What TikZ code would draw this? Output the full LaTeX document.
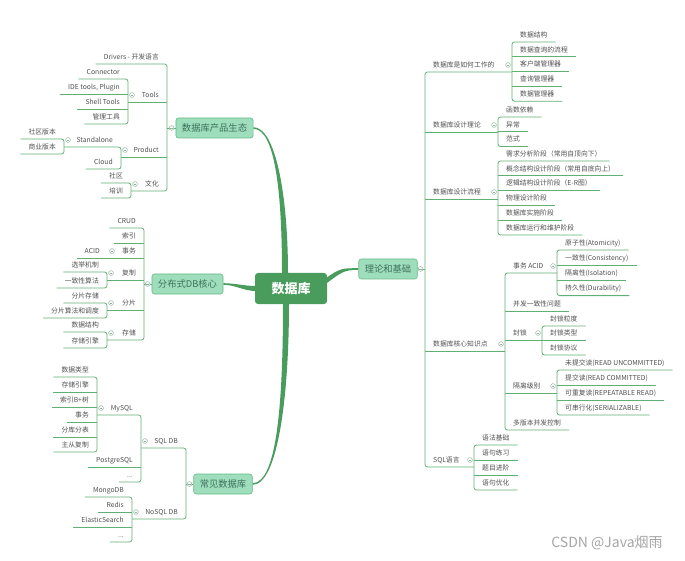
\documentclass[tikz,border=0pt]{standalone}
\usepackage{fontspec}
\setmainfont{Noto Sans CJK SC}
\usetikzlibrary{calc,backgrounds}
\definecolor{rootgreen}{RGB}{74,156,92}
\definecolor{topicfill}{RGB}{158,222,188}
\definecolor{topicline}{RGB}{104,186,136}
\definecolor{topictext}{RGB}{62,112,92}
\definecolor{linegreen}{RGB}{96,176,116}
\definecolor{leaftext}{RGB}{80,80,80}
\definecolor{markgray}{RGB}{146,176,158}
\definecolor{wmgray}{RGB}{165,165,165}

\tikzset{
  leafbase/.style={font=\fontsize{6.8}{8}\selectfont, text=leaftext, inner xsep=8pt, inner ysep=3.5pt, text height=5.8pt, text depth=1pt},
  rleaf/.style={leafbase, anchor=south west},
  lleaf/.style={leafbase, anchor=south east},
  conn/.style={draw=linegreen, line width=0.8pt, rounded corners=2.5pt},
  fold/.style={circle, draw=markgray, fill=white, line width=0.5pt, inner sep=0pt, minimum size=4.8pt,
    path picture={\draw[markgray, line width=0.4pt] ([xshift=1pt]path picture bounding box.west) -- ([xshift=-1pt]path picture bounding box.east);}},
  topicbox/.style={rounded corners=2.5pt, fill=topicfill, draw=topicline, line width=0.6pt, text=topictext, font=\fontsize{9.3}{11}\selectfont, minimum height=20pt, inner xsep=6pt},
  rootbox/.style={rounded corners=3pt, fill=rootgreen, text=white, font=\fontsize{13}{15}\selectfont\bfseries, minimum width=72pt, minimum height=31pt},
  limb/.style={fill=rootgreen},
}

\begin{document}
\begin{tikzpicture}[x=1pt, y=-1pt]
\useasboundingbox (0,0) rectangle (685,561);

% centre and main topics
\node[rootbox] (db) at (291,288.5) {数据库};
\node[topicbox] (theory) at (388,269) {理论和基础};
\node[topicbox] (eco) at (214.5,128) {数据库产品生态};
\node[topicbox] (dist) at (187.5,284) {分布式DB核心};
\node[topicbox] (common) at (223,484) {常见数据库};
\begin{scope}[on background layer]
\fill[limb] ($(db.east)+(-1,-10.5)$) .. controls +(14,-10) and +(-16,0) .. ($(theory.west)+(0,-0.8)$)
  -- ($(theory.west)+(0,0.8)$) .. controls +(-16,0) and +(14,-10) .. ($(db.east)+(-1,-5)$) -- cycle;
\fill[limb] ($(db.north)+(-9,1)$) .. controls +(0,-80) and +(22,0) .. ($(eco.east)+(0,0.8)$)
  -- ($(eco.east)+(0,-0.8)$) .. controls +(22,0) and +(0,-80) .. ($(db.north)+(-3,1)$) -- cycle;
\fill[limb] ($(db.west)+(1,-2.5)$) .. controls +(-12,0) and +(12,0) .. ($(dist.east)+(0,-0.8)$)
  -- ($(dist.east)+(0,0.8)$) .. controls +(12,0) and +(-12,0) .. ($(db.west)+(1,2.5)$) -- cycle;
\fill[limb] ($(db.south)+(-8,-1)$) .. controls +(0,95) and +(25,0) .. ($(common.east)+(0,-0.8)$)
  -- ($(common.east)+(0,0.8)$) .. controls +(25,0) and +(0,95) .. ($(db.south)+(-2,-1)$) -- cycle;
\end{scope}

% theory branch
\node[rleaf] (how) at (425,72) {数据库是如何工作的};
\node[rleaf] (design) at (425,132) {数据库设计理论};
\node[rleaf] (flow) at (425,199) {数据库设计流程};
\node[rleaf] (core) at (425,351) {数据库核心知识点};
\node[rleaf] (sql) at (425,467) {SQL语言};
\foreach \t [count=\i] in {数据结构,数据查询的流程,客户端管理器,查询管理器,数据管理器}
  \node[rleaf] (how\i) at (512,{42+14.8*(\i-1)}) {\t};
\foreach \t [count=\i] in {函数依赖,异常,范式}
  \node[rleaf] (des\i) at (498,{117+14.8*(\i-1)}) {\t};
\foreach \t [count=\i] in {需求分析阶段（常用自顶向下）,概念结构设计阶段（常用自底向上）,逻辑结构设计阶段（E-R图）,物理设计阶段,数据库实施阶段,数据库运行和维护阶段}
  \node[rleaf] (flow\i) at (498,{161+14.8*(\i-1)}) {\t};
\node[rleaf] (acid) at (505,273) {事务 ACID};
\node[rleaf] (conc) at (505,311) {并发一致性问题};
\node[rleaf] (lock) at (505,340) {封锁};
\node[rleaf] (iso) at (505,393) {隔离级别};
\node[rleaf] (mvcc) at (505,430) {多版本并发控制};
\foreach \t [count=\i] in {{原子性(Atomicity)},{一致性(Consistency)},{隔离性(Isolation)},{持久性(Durability)}}
  \node[rleaf] (acid\i) at (557,{250+15.2*(\i-1)}) {\t};
\foreach \t [count=\i] in {封锁粒度,封锁类型,封锁协议}
  \node[rleaf] (lock\i) at (542,{326+14.5*(\i-1)}) {\t};
\foreach \t [count=\i] in {{未提交读(READ UNCOMMITTED)},{提交读(READ COMMITTED)},{可重复读(REPEATABLE READ)},{可串行化(SERIALIZABLE)}}
  \node[rleaf] (iso\i) at (557,{370+15*(\i-1)}) {\t};
\foreach \t [count=\i] in {语法基础,语句练习,题目进阶,语句优化}
  \node[rleaf] (sql\i) at (474,{445+15*(\i-1)}) {\t};

\draw[conn] (theory.east) -- (theory.east -| how.south west);
\draw[conn] (how.south west -| how1.south west) -- (how.south west) -- (sql.south west) -- (sql.south west -| sql1.south west);
\draw[conn] (design.south west) -- (design.south west -| des1.south west);
\draw[conn] (flow.south west) -- (flow.south west -| flow1.south west);
\draw[conn] (core.south west) -- (core.south west -| acid.south west);
\draw[conn] (how1.south east) -- (how1.south west) -- (how5.south west) -- (how5.south east);
\foreach \i in {2,3,4} \draw[conn] (how\i.south west) -- (how\i.south east);
\draw[conn] (des1.south east) -- (des1.south west) -- (des3.south west) -- (des3.south east);
\draw[conn] (des2.south west) -- (des2.south east);
\draw[conn] (flow1.south east) -- (flow1.south west) -- (flow6.south west) -- (flow6.south east);
\foreach \i in {2,...,5} \draw[conn] (flow\i.south west) -- (flow\i.south east);
\draw[conn] (acid.south west -| acid1.south west) -- (acid.south west) -- (mvcc.south west) -- (mvcc.south east);
\draw[conn] (conc.south west) -- (conc.south east);
\draw[conn] (lock.south west) -- (lock.south west -| lock1.south west);
\draw[conn] (iso.south west) -- (iso.south west -| iso1.south west);
\draw[conn] (acid1.south east) -- (acid1.south west) -- (acid4.south west) -- (acid4.south east);
\foreach \i in {2,3} \draw[conn] (acid\i.south west) -- (acid\i.south east);
\draw[conn] (lock1.south east) -- (lock1.south west) -- (lock3.south west) -- (lock3.south east);
\draw[conn] (lock2.south west) -- (lock2.south east);
\draw[conn] (iso1.south east) -- (iso1.south west) -- (iso4.south west) -- (iso4.south east);
\foreach \i in {2,3} \draw[conn] (iso\i.south west) -- (iso\i.south east);
\draw[conn] (sql1.south east) -- (sql1.south west) -- (sql4.south west) -- (sql4.south east);
\foreach \i in {2,3} \draw[conn] (sql\i.south west) -- (sql\i.south east);
\node[fold] at ($(theory.east)+(3,0)$) {};
\foreach \p/\c in {how/how1, design/des1, flow/flow1, core/acid, sql/sql1, acid/acid1, lock/lock1, iso/iso1}
  \node[fold] at ($(\p.south west -| \c.south west)+(-4,-7)$) {};

% product ecosystem branch
\node[lleaf] (drv) at (167,64) {Drivers - 开发语言};
\node[lleaf] (tools) at (167,102) {Tools};
\node[lleaf] (prod) at (167,157) {Product};
\node[lleaf] (cult) at (167,191) {文化};
\foreach \t [count=\i] in {Connector,{IDE tools, Plugin},Shell Tools,管理工具}
  \node[lleaf] (tool\i) at (128,{79+15*(\i-1)}) {\t};
\node[lleaf] (stand) at (121,147) {Standalone};
\node[lleaf] (cloud) at (121,169) {Cloud};
\node[lleaf] (ed1) at (64,139) {社区版本};
\node[lleaf] (ed2) at (64,154) {商业版本};
\node[lleaf] (cult1) at (131,183) {社区};
\node[lleaf] (cult2) at (131,198) {培训};

\draw[conn] (eco.west) -- (eco.west -| drv.south east);
\draw[conn] (drv.south west) -- (drv.south east) -- (cult.south east) -- (cult.south east -| cult1.south east);
\draw[conn] (tools.south east) -- (tools.south east -| tool1.south east);
\draw[conn] (prod.south east) -- (prod.south east -| stand.south east);
\draw[conn] (tool1.south west) -- (tool1.south east) -- (tool4.south east) -- (tool4.south west);
\foreach \i in {2,3} \draw[conn] (tool\i.south west) -- (tool\i.south east);
\draw[conn] (stand.south east -| ed1.south east) -- (stand.south east) -- (cloud.south east) -- (cloud.south west);
\draw[conn] (ed1.south west) -- (ed1.south east) -- (ed2.south east) -- (ed2.south west);
\draw[conn] (cult1.south west) -- (cult1.south east) -- (cult2.south east) -- (cult2.south west);
\node[fold] at ($(eco.west)+(-4,0)$) {};
\foreach \p/\c in {tools/tool1, prod/stand, stand/ed1, cult/cult1}
  \node[fold] at ($(\p.south east -| \c.south east)+(4,-7)$) {};

% distributed core branch
\node[lleaf] (crud) at (144,228) {CRUD};
\node[lleaf] (idx) at (144,243) {索引};
\node[lleaf] (trx) at (144,258) {事务};
\node[lleaf] (repl) at (144,280) {复制};
\node[lleaf] (shard) at (144,310) {分片};
\node[lleaf] (store) at (144,340) {存储};
\node[lleaf] (acidl) at (108,258) {ACID};
\node[lleaf] (repl1) at (107,272) {选举机制};
\node[lleaf] (repl2) at (107,288) {一致性算法};
\node[lleaf] (shard1) at (107,303) {分片存储};
\node[lleaf] (shard2) at (107,318) {分片算法和调度};
\node[lleaf] (store1) at (107,332) {数据结构};
\node[lleaf] (store2) at (107,348) {存储引擎};

\draw[conn] (dist.west) -- (dist.west -| crud.south east);
\draw[conn] (crud.south west) -- (crud.south east) -- (store.south east) -- (store.south east -| store1.south east);
\draw[conn] (idx.south west) -- (idx.south east);
\draw[conn] (trx.south east) -- (acidl.south west);
\draw[conn] (repl.south east) -- (repl.south east -| repl1.south east);
\draw[conn] (shard.south east) -- (shard.south east -| shard1.south east);
\foreach \n in {repl,shard,store}
  \draw[conn] (\n1.south west) -- (\n1.south east) -- (\n2.south east) -- (\n2.south west);
\node[fold] at ($(dist.west)+(-4,0)$) {};
\foreach \p/\c in {trx/acidl, repl/repl1, shard/shard1, store/store1}
  \node[fold] at ($(\p.south east -| \c.south east)+(4,-7)$) {};

% common databases branch
\node[lleaf] (sqldb) at (186,448) {SQL DB};
\node[lleaf] (nosql) at (186,519) {NoSQL DB};
\node[lleaf] (mysql) at (141,415) {MySQL};
\node[lleaf] (pg) at (141,467) {PostgreSQL};
\node[lleaf] (sqlmore) at (141,482) {...};
\foreach \t [count=\i] in {数据类型,存储引擎,索引B+树,事务,分库分表,主从复制}
  \node[lleaf] (my\i) at (97,{377+15*(\i-1)}) {\t};
\foreach \t [count=\i] in {MongoDB,Redis,ElasticSearch}
  \node[lleaf] (nos\i) at (132,{497+15*(\i-1)}) {\t};
\node[lleaf] (nos4) at (132,542) {...};

\draw[conn] (common.west) -- (common.west -| sqldb.south east);
\draw[conn] (sqldb.south east -| mysql.south east) -- (sqldb.south east) -- (nosql.south east) -- (nosql.south east -| nos1.south east);
\draw[conn] (mysql.south east -| my1.south east) -- (mysql.south east) -- (sqlmore.south east) -- (sqlmore.south west);
\draw[conn] (pg.south west) -- (pg.south east);
\draw[conn] (my1.south west) -- (my1.south east) -- (my6.south east) -- (my6.south west);
\foreach \i in {2,...,5} \draw[conn] (my\i.south west) -- (my\i.south east);
\draw[conn] (nos1.south west) -- (nos1.south east) -- (nos4.south east) -- (nos4.south west);
\foreach \i in {2,3} \draw[conn] (nos\i.south west) -- (nos\i.south east);
\node[fold] at ($(common.west)+(-4,0)$) {};
\foreach \p/\c in {sqldb/mysql, mysql/my1, nosql/nos1}
  \node[fold] at ($(\p.south east -| \c.south east)+(4,-7)$) {};

\node[font=\fontsize{14}{16}\selectfont, text=wmgray] (mark) at (607,543) {CSDN @Java烟雨};
\end{tikzpicture}
\end{document}
